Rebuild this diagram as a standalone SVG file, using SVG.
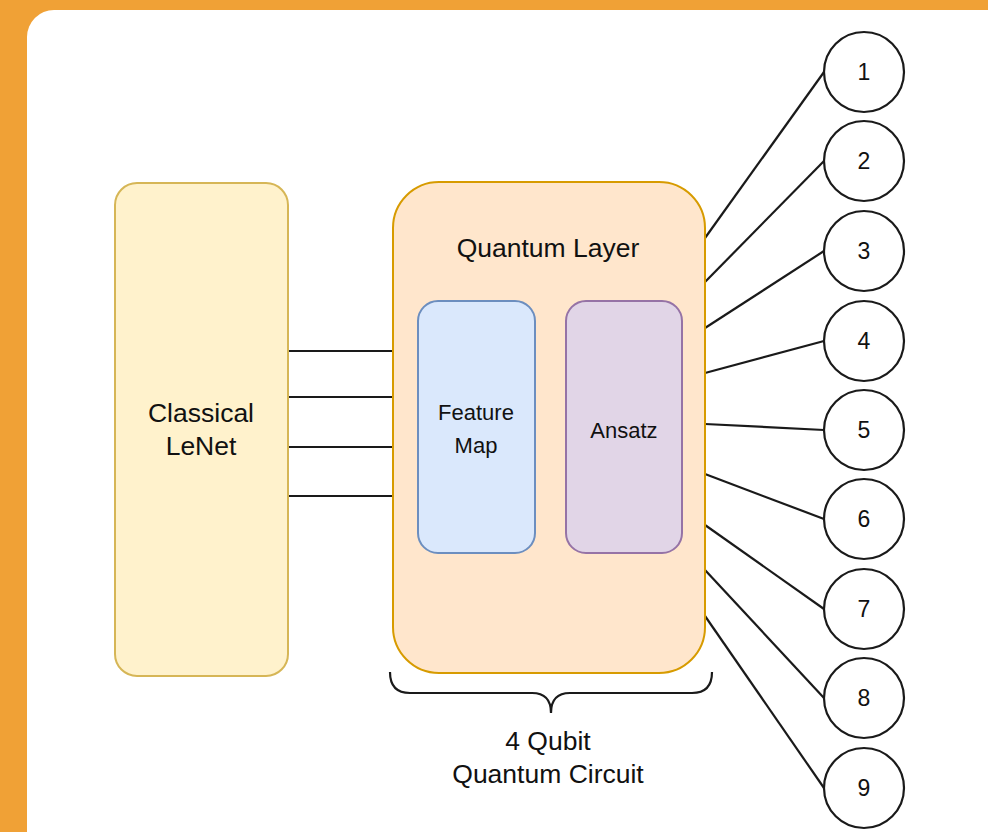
<svg xmlns="http://www.w3.org/2000/svg" width="988" height="832" viewBox="0 0 988 832">
  <style>
    .lbl { font-family: "Liberation Sans", Arial, sans-serif; fill: #111111; text-anchor: middle; }
    .wire { stroke: #1a1a1a; stroke-width: 2.2; fill: none; }
    .qubit circle { fill: #ffffff; stroke: #1a1a1a; stroke-width: 2.2; }
    .qubit text { font-size: 23px; }
  </style>

  <!-- page background and card -->
  <rect x="0" y="0" width="988" height="832" fill="#f0a136"/>
  <rect x="27" y="10" width="990" height="860" rx="27" ry="27" fill="#ffffff"/>

  <!-- connectors -->
  <g id="connectors" class="wire">
    <line x1="288" y1="351" x2="393" y2="351"/>
    <line x1="288" y1="397" x2="393" y2="397"/>
    <line x1="288" y1="447" x2="393" y2="447"/>
    <line x1="288" y1="496" x2="393" y2="496"/>

    <line x1="705" y1="238" x2="824" y2="72"/>
    <line x1="705" y1="282" x2="824" y2="161"/>
    <line x1="705" y1="328" x2="824" y2="251"/>
    <line x1="705" y1="373" x2="824" y2="341"/>
    <line x1="705" y1="424" x2="824" y2="430"/>
    <line x1="705" y1="474" x2="824" y2="519"/>
    <line x1="705" y1="525" x2="824" y2="609"/>
    <line x1="705" y1="570" x2="824" y2="698"/>
    <line x1="705" y1="616" x2="824" y2="788"/>
  </g>

  <!-- classical network -->
  <g id="lenet">
    <rect x="115" y="183" width="173" height="493" rx="22" ry="22" fill="#fff2cc" stroke="#d6b656" stroke-width="2"/>
    <text class="lbl" x="201" y="422" font-size="26.5">Classical</text>
    <text class="lbl" x="201" y="455" font-size="26.5">LeNet</text>
  </g>

  <!-- quantum layer -->
  <g id="quantum-layer">
    <rect x="393" y="182" width="312" height="491" rx="46" ry="46" fill="#ffe6cc" stroke="#d79b00" stroke-width="2"/>
    <text class="lbl" x="548" y="257" font-size="26.5">Quantum Layer</text>
  </g>

  <g id="feature-map">
    <rect x="418" y="301" width="117" height="252" rx="20" ry="20" fill="#dae8fc" stroke="#6c8ebf" stroke-width="2"/>
    <text class="lbl" x="476" y="420" font-size="22">Feature</text>
    <text class="lbl" x="476" y="453" font-size="22">Map</text>
  </g>

  <g id="ansatz">
    <rect x="566" y="301" width="116" height="252" rx="20" ry="20" fill="#e1d5e7" stroke="#9673a6" stroke-width="2"/>
    <text class="lbl" x="624" y="438" font-size="22">Ansatz</text>
  </g>

  <!-- brace under the quantum layer -->
  <g id="brace">
    <path class="wire" d="M390,672 Q390,693 410,693 H532 Q551,693 551,713 Q551,693 570,693 H692 Q712,693 712,672"/>
    <text class="lbl" x="548" y="750" font-size="26.5">4 Qubit</text>
    <text class="lbl" x="548" y="783" font-size="26.5">Quantum Circuit</text>
  </g>

  <!-- output nodes -->
  <g id="out-1" class="qubit"><circle cx="864" cy="72" r="40"/><text class="lbl" x="864" y="80">1</text></g>
  <g id="out-2" class="qubit"><circle cx="864" cy="161" r="40"/><text class="lbl" x="864" y="169">2</text></g>
  <g id="out-3" class="qubit"><circle cx="864" cy="251" r="40"/><text class="lbl" x="864" y="259">3</text></g>
  <g id="out-4" class="qubit"><circle cx="864" cy="341" r="40"/><text class="lbl" x="864" y="349">4</text></g>
  <g id="out-5" class="qubit"><circle cx="864" cy="430" r="40"/><text class="lbl" x="864" y="438">5</text></g>
  <g id="out-6" class="qubit"><circle cx="864" cy="519" r="40"/><text class="lbl" x="864" y="527">6</text></g>
  <g id="out-7" class="qubit"><circle cx="864" cy="609" r="40"/><text class="lbl" x="864" y="617">7</text></g>
  <g id="out-8" class="qubit"><circle cx="864" cy="698" r="40"/><text class="lbl" x="864" y="706">8</text></g>
  <g id="out-9" class="qubit"><circle cx="864" cy="788" r="40"/><text class="lbl" x="864" y="796">9</text></g>
</svg>
